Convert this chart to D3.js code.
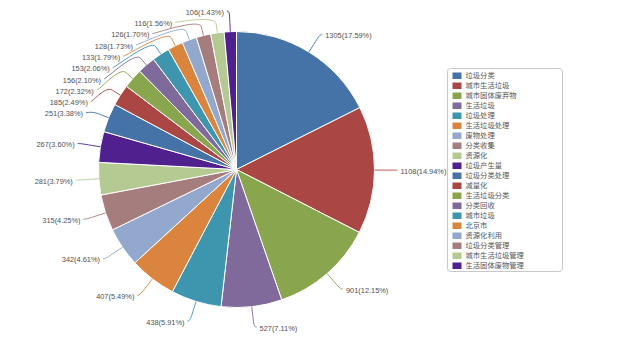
<!DOCTYPE html>
<html>
<head>
<meta charset="utf-8">
<script src="https://cdn.jsdelivr.net/npm/d3@7"></script>
<style>
  html, body { margin: 0; padding: 0; background: #fff; }
  svg { display: block; }
</style>
</head>
<body>
<svg id="chart" width="630" height="348"></svg>
<script>
// Keyword frequency data
const categories = [
  "垃圾分类", "城市生活垃圾", "城市固体废弃物", "生活垃圾", "垃圾处理",
  "生活垃圾处理", "废物处理", "分类收集", "资源化", "垃圾产生量",
  "垃圾分类处理", "减量化", "生活垃圾分类", "分类回收", "城市垃圾",
  "北京市", "资源化利用", "垃圾分类管理", "城市生活垃圾管理", "生活固体废物管理"
];
const values = [1305, 1108, 901, 527, 438, 407, 342, 315, 281, 267,
                251, 185, 172, 156, 153, 133, 128, 126, 116, 106];
const palette = ["#4572A7", "#AA4643", "#89A54E", "#80699B", "#3D96AE",
                 "#DB843D", "#92A8CD", "#A47D7C", "#B5CA92", "#50208F"];

// Layout
const W = 630, H = 348;
const cx = 236.5, cy = 169.5, radius = 138;
const labelDistance = 20.5;     // label ring beyond the pie edge
const connectorOffset = 9;      // second break of the soft connector
const slotHeight = 11.3;        // vertical room per label
const textPad = 5.5;            // gap between connector end and text
const textDy = 1.8;

const svg = d3.select("#chart");
const total = d3.sum(values);
const color = d3.scaleOrdinal().domain(categories).range(palette);

const pie = d3.pie().sort(null).value(d => d.value).startAngle(0).endAngle(2 * Math.PI);
const data = categories.map((c, i) => ({ name: c, value: values[i] }));
const arcs = pie(data);
const arc = d3.arc().innerRadius(0).outerRadius(radius);

const gPie = svg.append("g").attr("transform", `translate(${cx},${cy})`);
gPie.selectAll("path.slice")
  .data(arcs)
  .join("path")
  .attr("class", "slice")
  .attr("d", arc)
  .attr("fill", d => color(d.data.name))
  .attr("stroke", "#fff")
  .attr("stroke-width", 1)
  .attr("stroke-linejoin", "round");

// ---- label placement: slot based anti-collision on each half ----
const ringR = radius + labelDistance;
const pts = arcs.map(a => {
  const mid = (a.startAngle + a.endAngle) / 2;
  const ang = mid - Math.PI / 2;              // angle from +x, y down
  const c = Math.cos(ang), s = Math.sin(ang);
  return {
    d: a,
    angle: ang,
    half: (ang < -Math.PI / 2 || ang > Math.PI / 2) ? 1 : 0,
    labelPos: [
      cx + c * ringR, cy + s * ringR,
      cx + c * (radius + connectorOffset), cy + s * (radius + connectorOffset),
      cx + c * radius, cy + s * radius
    ]
  };
});

function getX(y, left) {
  const a = Math.asin(Math.max(-1, Math.min(1, (y - cy) / ringR)));
  return cx + (left ? -1 : 1) * Math.cos(a) * ringR;
}

const halves = [pts.filter(p => p.half === 0), pts.filter(p => p.half === 1)];
for (let h = 1; h >= 0; h--) {
  const points = halves[h];
  const sign = h - 0.5;
  points.sort((a, b) => (b.angle - a.angle) * sign);
  const length = points.length;
  const slots = [];
  for (let pos = cy - ringR; pos <= cy + ringR; pos += slotHeight) slots.push(pos);
  const slotsLength = slots.length;
  const used = [];
  for (let j = 0; j < length; j++) {
    const lp = points[j].labelPos;
    let closest = 9999, slotIndex = 0;
    for (let k = 0; k < slotsLength; k++) {
      const dist = Math.abs(slots[k] - lp[1]);
      if (dist < closest) { closest = dist; slotIndex = k; }
    }
    if (slotIndex < j && slots[j] !== null) {
      slotIndex = j;
    } else if (slotsLength < length - j + slotIndex && slots[j] !== null) {
      slotIndex = slotsLength - length + j;
      while (slots[slotIndex] === null) slotIndex++;
    } else {
      while (slots[slotIndex] === null) slotIndex++;
    }
    used.push({ i: slotIndex, y: slots[slotIndex] });
    slots[slotIndex] = null;
  }
  used.sort((a, b) => b.y - a.y);
  for (let j = 0; j < length; j++) {
    const p = points[j];
    const naturalY = p.labelPos[1];
    const slot = used.pop();
    let y = slot.y;
    if ((naturalY > y && slots[slot.i + 1] !== null) ||
        (naturalY < y && slots[slot.i - 1] !== null)) {
      y = naturalY;
    }
    const x = getX((slot.i === 0 || slot.i === slotsLength - 1) ? naturalY : y, h === 1);
    p.x = x; p.y = y;
  }
}

// soft connectors
const gLab = svg.append("g");
gLab.selectAll("path.conn")
  .data(pts)
  .join("path")
  .attr("class", "conn")
  .attr("fill", "none")
  .attr("stroke", p => color(p.d.data.name))
  .attr("stroke-width", 0.9)
  .attr("d", p => {
    const lp = p.labelPos;
    const dir = p.half ? -1 : 1;
    const path = d3.path();
    path.moveTo(p.x + dir * 2.5, p.y);
    path.bezierCurveTo(p.x, p.y, 2 * lp[2] - lp[4], 2 * lp[3] - lp[5], lp[2], lp[3]);
    path.lineTo(lp[4], lp[5]);
    return path.toString();
  });

gLab.selectAll("text.lbl")
  .data(pts)
  .join("text")
  .attr("class", "lbl")
  .attr("x", p => p.x + (p.half ? -textPad : textPad))
  .attr("y", p => p.y + textDy)
  .attr("text-anchor", p => p.half ? "end" : "start")
  .attr("dominant-baseline", "middle")
  .attr("font-family", "'Liberation Sans Narrow', 'Liberation Sans', Arial, sans-serif")
  .attr("font-size", 7.4)
  .attr("fill", "#505050")
  .text(p => `${p.d.data.value}(${(p.d.data.value / total * 100).toFixed(2)}%)`);

// ---- legend ----
const lgX = 447.5, lgY = 68.5, lgW = 115, lgH = 203;
const legend = svg.append("g");
legend.append("rect")
  .attr("x", lgX).attr("y", lgY)
  .attr("width", lgW).attr("height", lgH)
  .attr("rx", 3).attr("ry", 3)
  .attr("fill", "#fff")
  .attr("stroke", "#c8c8c8")
  .attr("stroke-width", 1);

const rowY = d3.scalePoint().domain(categories).range([lgY + 7, lgY + 197]);
const items = legend.selectAll("g.item")
  .data(categories)
  .join("g")
  .attr("class", "item")
  .attr("transform", d => `translate(${lgX + 5},${rowY(d)})`);
items.append("rect")
  .attr("x", 0).attr("y", -3)
  .attr("width", 9).attr("height", 6.5)
  .attr("fill", d => color(d));
items.append("text")
  .attr("x", 13).attr("y", 0.5)
  .attr("dominant-baseline", "middle")
  .attr("font-family", "'Noto Sans CJK SC', sans-serif")
  .attr("font-size", 7.3)
  .attr("fill", "#555")
  .text(d => d);
</script>
</body>
</html>
